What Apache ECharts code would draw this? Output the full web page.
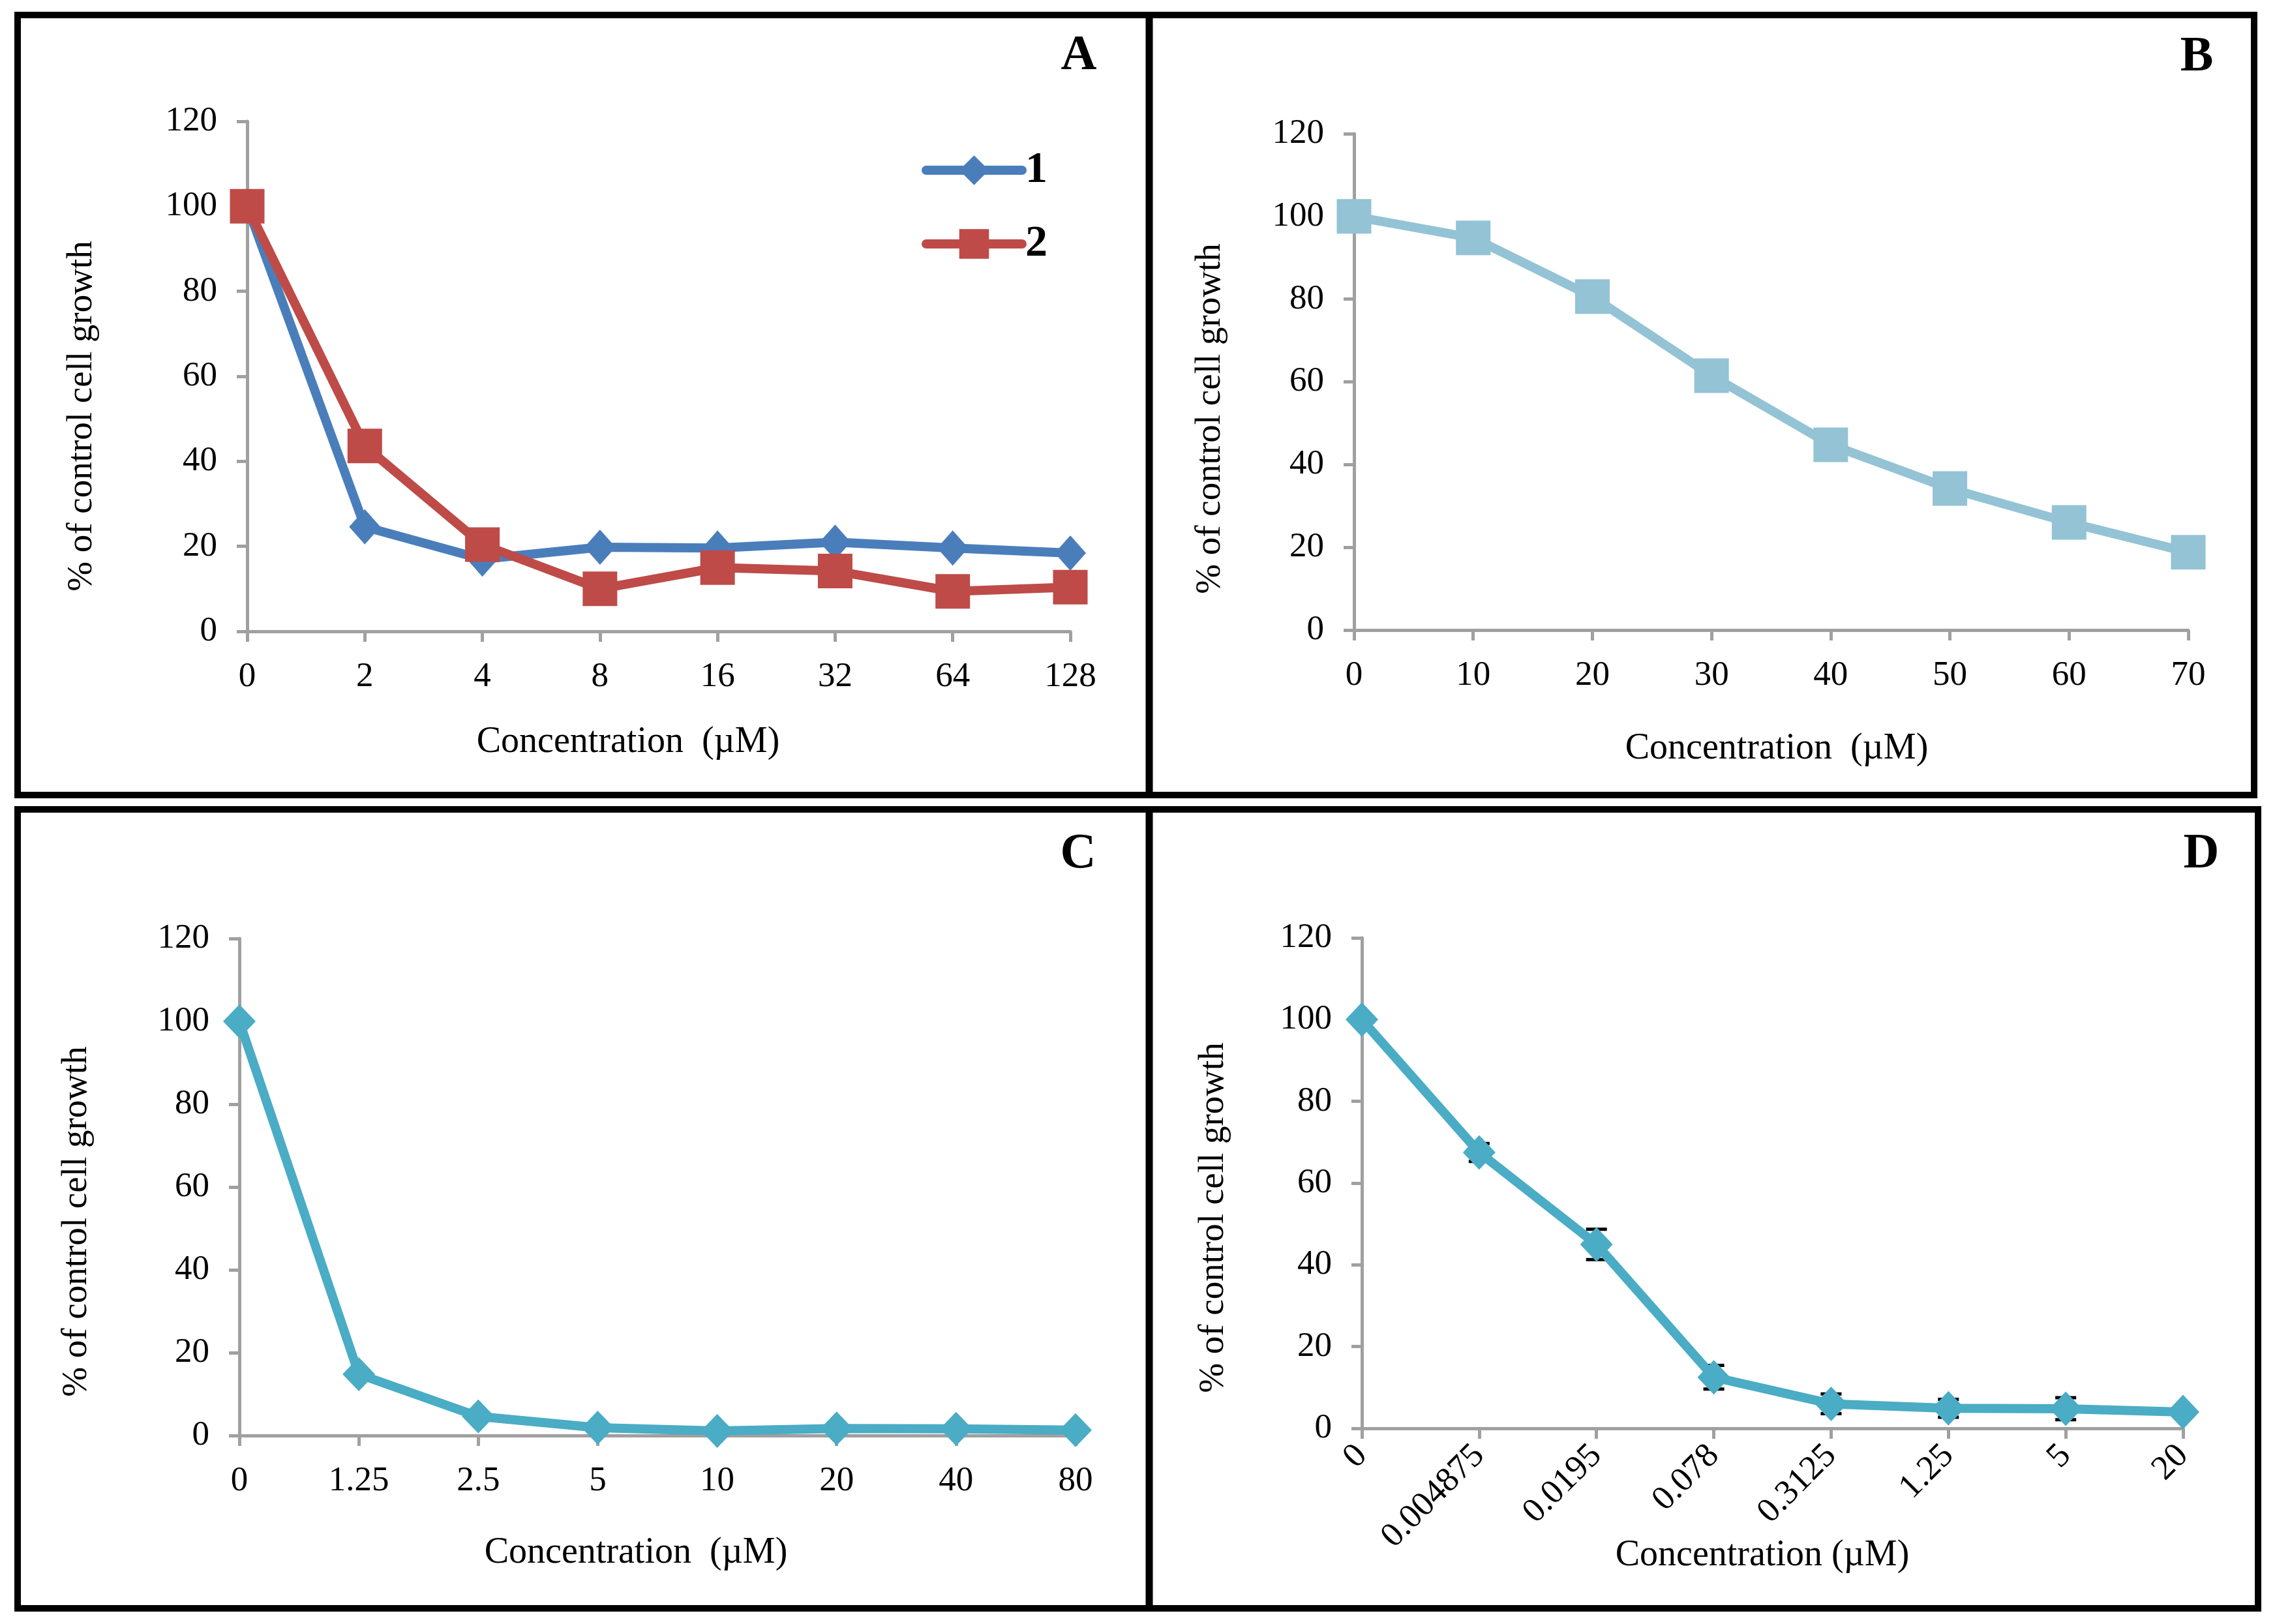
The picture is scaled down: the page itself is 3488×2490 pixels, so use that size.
<!DOCTYPE html>
<html>
<head>
<meta charset="utf-8">
<script src="https://cdn.jsdelivr.net/npm/echarts@6/dist/echarts.min.js"></script>
<style>
html,body{margin:0;padding:0;background:#fff;}
#chart{width:3488px;height:2490px;}
</style>
</head>
<body>
<div id="chart"></div>
<script>
// ---- Data ----
const aConc = ['0', '2', '4', '8', '16', '32', '64', '128'];
const aSeries1 = [100, 24.6, 17.0, 19.8, 19.6, 21.0, 19.6, 18.4];
const aSeries2 = [100, 43.6, 20.4, 10.0, 15.0, 14.2, 9.4, 10.4];

const bConc = ['0', '10', '20', '30', '40', '50', '60', '70'];
const bValues = [100, 94.8, 80.6, 61.5, 44.8, 34.2, 26.0, 18.8];

const cConc = ['0', '1.25', '2.5', '5', '10', '20', '40', '80'];
const cValues = [100, 14.8, 4.6, 1.9, 1.1, 1.7, 1.6, 1.3];

const dConc = ['0', '0.004875', '0.0195', '0.078', '0.3125', '1.25', '5', '20'];
const dValues = [100, 67.5, 45.0, 12.5, 6.0, 4.9, 4.8, 4.0];
const dErrors = [0, 2.2, 3.7, 2.9, 2.4, 2.2, 2.7, 0.8];

const yTicks = { min: 0, max: 120, interval: 20 };
const panelLabels = ['A', 'B', 'C', 'D'];
const xTitles = ['Concentration  (\u00b5M)', 'Concentration  (\u00b5M)', 'Concentration  (\u00b5M)', 'Concentration (\u00b5M)'];
const yTitle = '% of control cell growth';

// ---- Styles ----
const FONT = '"Liberation Serif", "Times New Roman", serif';
const AXIS_COLOR = '#a0a0a0';
const grids = [
  { left: 379, top: 186, width: 1262, height: 782 },
  { left: 2076, top: 205, width: 1279, height: 761 },
  { left: 367, top: 1439, width: 1282, height: 762 },
  { left: 2088, top: 1438, width: 1259, height: 752 }
];

function xAxisDef(idx, cats, rotate) {
  return {
    type: 'category', gridIndex: idx, data: cats, boundaryGap: false,
    axisLine: { lineStyle: { color: AXIS_COLOR, width: 5 } },
    axisTick: { show: true, length: 16, interval: 0, lineStyle: { color: AXIS_COLOR, width: 5 } },
    axisLabel: { interval: 0, rotate: rotate || 0, margin: rotate ? 34 : 44, color: '#000', fontFamily: FONT, fontSize: 53 },
    splitLine: { show: false }
  };
}
function yAxisDef(idx) {
  return {
    type: 'value', gridIndex: idx, min: yTicks.min, max: yTicks.max, interval: yTicks.interval,
    axisLine: { show: true, lineStyle: { color: AXIS_COLOR, width: 5 } },
    axisTick: { show: true, length: 16, lineStyle: { color: AXIS_COLOR, width: 5 } },
    axisLabel: { margin: 46, color: '#000', fontFamily: FONT, fontSize: 53 },
    splitLine: { show: false }
  };
}
function lineSeries(name, idx, data, color, symbol, size) {
  return {
    name: name, type: 'line', xAxisIndex: idx, yAxisIndex: idx, data: data,
    symbol: symbol, symbolSize: size, showSymbol: true, showAllSymbol: true,
    lineStyle: { color: color, width: 14, join: 'round', cap: 'round' },
    itemStyle: { color: color, opacity: 1 },
    z: 3, animation: false
  };
}

// Panel frames & texts
const xTitlePos = [[963, 1138], [2724, 1148], [975, 2381], [2702, 2385]];
const yTitlePos = [[126, 638], [1856, 642], [118, 1873], [1861, 1867]];
const panelLabelPos = [[1654, 86], [3368, 88], [1653, 1310], [3375, 1310]];

const graphics = [];
graphics.push({ type: 'rect', shape: { x: 27, y: 23, width: 3429, height: 1196 }, style: { fill: 'none', stroke: '#000', lineWidth: 10 }, z: 10 });
graphics.push({ type: 'line', shape: { x1: 1762, y1: 23, x2: 1762, y2: 1219 }, style: { stroke: '#000', lineWidth: 11 }, z: 10 });
graphics.push({ type: 'rect', shape: { x: 27, y: 1241, width: 3435, height: 1225 }, style: { fill: 'none', stroke: '#000', lineWidth: 10 }, z: 10 });
graphics.push({ type: 'line', shape: { x1: 1762, y1: 1241, x2: 1762, y2: 2466 }, style: { stroke: '#000', lineWidth: 11 }, z: 10 });
for (let i = 0; i < 4; i++) {
  graphics.push({ type: 'text', x: xTitlePos[i][0], y: xTitlePos[i][1], style: { text: xTitles[i], font: 'normal 56px ' + FONT, fill: '#000', textAlign: 'center', textVerticalAlign: 'middle', align: 'center', verticalAlign: 'middle' } });
  graphics.push({ type: 'text', x: yTitlePos[i][0], y: yTitlePos[i][1], rotation: Math.PI / 2, style: { text: yTitle, font: 'normal 55px ' + FONT, fill: '#000', textAlign: 'center', textVerticalAlign: 'middle', align: 'center', verticalAlign: 'middle' } });
  graphics.push({ type: 'text', x: panelLabelPos[i][0], y: panelLabelPos[i][1], style: { text: panelLabels[i], font: 'bold 76px ' + FONT, fill: '#000', textAlign: 'center', textVerticalAlign: 'middle', align: 'center', verticalAlign: 'middle' } });
}

const errData = dValues.map((v, i) => [i, v, dErrors[i]]);

const option = {
  backgroundColor: '#ffffff',
  animation: false,
  grid: grids.map(g => Object.assign({ containLabel: false }, g)),
  xAxis: [xAxisDef(0, aConc), xAxisDef(1, bConc), xAxisDef(2, cConc), xAxisDef(3, dConc, 45)],
  yAxis: [yAxisDef(0), yAxisDef(1), yAxisDef(2), yAxisDef(3)],
  legend: {
    orient: 'vertical', left: 1413, top: 227, padding: 0,
    itemWidth: 147, itemHeight: 57, itemGap: 45,
    data: ['1', '2'],
    lineStyle: { width: 14, cap: 'round' },
    textStyle: { fontFamily: FONT, fontWeight: 'bold', fontSize: 68, color: '#000' }
  },
  graphic: { elements: graphics },
  series: [
    lineSeries('1', 0, aSeries1, '#4a7ebb', 'diamond', [48, 54]),
    lineSeries('2', 0, aSeries2, '#be4b48', 'rect', 53),
    lineSeries('B', 1, bValues, '#93c3d5', 'rect', 53),
    lineSeries('C', 2, cValues, '#4aacc5', 'diamond', [50, 52]),
    {
      type: 'custom', name: 'D error', xAxisIndex: 3, yAxisIndex: 3, data: errData, z: 1,
      encode: { x: 0, y: 1 },
      renderItem: function (params, api) {
        const x = api.value(0), v = api.value(1), e = api.value(2);
        if (!e) return null;
        const hi = api.coord([x, v + e]);
        const lo = api.coord([x, v - e]);
        const w = 16;
        const st = { stroke: '#000', lineWidth: 5 };
        return {
          type: 'group', children: [
            { type: 'line', shape: { x1: hi[0], y1: hi[1], x2: lo[0], y2: lo[1] }, style: { stroke: '#000', lineWidth: 3 } },
            { type: 'line', shape: { x1: hi[0] - w, y1: hi[1], x2: hi[0] + w, y2: hi[1] }, style: st },
            { type: 'line', shape: { x1: lo[0] - w, y1: lo[1], x2: lo[0] + w, y2: lo[1] }, style: st }
          ]
        };
      }
    },
    lineSeries('D', 3, dValues, '#4aacc5', 'diamond', [50, 53])
  ]
};

const chart = echarts.init(document.getElementById('chart'), null, { renderer: 'canvas', width: 3488, height: 2490 });
chart.setOption(option);
</script>
</body>
</html>
